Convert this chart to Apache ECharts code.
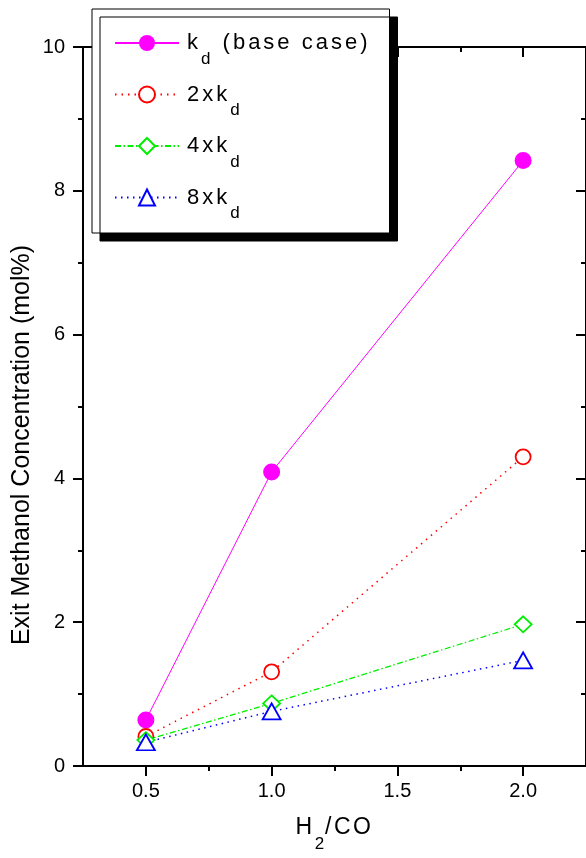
<!DOCTYPE html>
<html>
<head>
<meta charset="utf-8">
<script src="https://cdn.jsdelivr.net/npm/echarts@6/dist/echarts.min.js"></script>
<style>
  html, body { margin: 0; padding: 0; background: #fff; }
  #chart { width: 586px; height: 858px; }
</style>
</head>
<body>
<div id="chart"></div>
<script>
// ---- data ----
const xValues = [0.5, 1.0, 2.0];
const kdBase = [0.64, 4.09, 8.42];
const kd2x = [0.41, 1.31, 4.30];
const kd4x = [0.36, 0.87, 1.97];
const kd8x = [0.33, 0.76, 1.47];

const seriesNames = ['kd (base case)', '2xkd', '4xkd', '8xkd'];
const legendParts = [['k', 'd', ' (base case)'], ['2xk', 'd', ''], ['4xk', 'd', ''], ['8xk', 'd', '']];

const xMajorTicks = [0.5, 1.0, 1.5, 2.0];
const xMinorTicks = [0.75, 1.25, 1.75];
const yTickLabels = [0, 2, 4, 6, 8, 10];

const FONT = '"Liberation Sans", Arial, Helvetica, sans-serif';

function spaced(str, style) {
  return str.split('').map(c => '{' + style + '|' + c + '}').join('');
}
function legendText(name) {
  const i = seriesNames.indexOf(name);
  const p = legendParts[i];
  return spaced(p[0], 'm') + '{s|' + p[1] + '}' + spaced(p[2], 'm');
}
function pts(arr) { return xValues.map((x, i) => [x, arr[i]]); }

const chart = echarts.init(document.getElementById('chart'), null, { renderer: 'canvas' });

const axisLine = { show: true, lineStyle: { color: '#000', width: 2 } };

const option = {
  animation: false,
  backgroundColor: '#fff',
  grid: { left: 83, top: 47, right: -5, bottom: 92, containLabel: false },
  xAxis: [
    {
      type: 'value', min: 0.25, max: 2.25, position: 'bottom',
      axisLine: axisLine,
      axisTick: { show: true, inside: false, length: 10, customValues: xMajorTicks, lineStyle: { color: '#000', width: 2 } },
      axisLabel: { show: true, customValues: xMajorTicks, margin: 15, color: '#000', fontSize: 20, fontFamily: FONT,
        formatter: v => v.toFixed(1) },
      splitLine: { show: false },
      name: '{m|H}{s|2}{m|/}{m|C}{m|O}',
      nameLocation: 'middle',
      nameGap: 50,
      nameTextStyle: {
        fontFamily: FONT, fontSize: 23, color: '#000',
        rich: {
          m: { fontFamily: FONT, fontSize: 23, color: '#000', padding: [0, 2.5, 0, 0], verticalAlign: 'top' },
          s: { fontFamily: FONT, fontSize: 17, color: '#000', padding: [20, 1, 0, 0], verticalAlign: 'top' }
        }
      }
    },
    {
      type: 'value', min: 0.25, max: 2.25, position: 'bottom', gridIndex: 0,
      axisLine: { show: false },
      axisTick: { show: true, inside: false, length: 5, customValues: xMinorTicks, lineStyle: { color: '#000', width: 2 } },
      axisLabel: { show: false, customValues: xMinorTicks },
      splitLine: { show: false }
    },
    {
      type: 'value', min: 0.25, max: 2.25, position: 'top', gridIndex: 0,
      axisLine: axisLine,
      axisTick: { show: true, inside: true, length: 10, customValues: xMajorTicks, lineStyle: { color: '#000', width: 2 } },
      axisLabel: { show: false, customValues: xMajorTicks },
      splitLine: { show: false }
    },
    {
      type: 'value', min: 0.25, max: 2.25, position: 'top', gridIndex: 0,
      axisLine: { show: false },
      axisTick: { show: true, inside: true, length: 5, customValues: xMinorTicks, lineStyle: { color: '#000', width: 2 } },
      axisLabel: { show: false, customValues: xMinorTicks },
      splitLine: { show: false }
    }
  ],
  yAxis: [
    {
      type: 'value', min: 0, max: 10, interval: 2, position: 'left',
      axisLine: axisLine,
      axisTick: { show: true, inside: false, length: 10, lineStyle: { color: '#000', width: 2 } },
      minorTick: { show: true, splitNumber: 2, length: 5, lineStyle: { color: '#000', width: 2 } },
      axisLabel: { show: true, customValues: yTickLabels, margin: 18, color: '#000', fontSize: 20, fontFamily: FONT },
      splitLine: { show: false }
    },
    {
      type: 'value', min: 0, max: 10, interval: 2, position: 'right',
      axisLine: axisLine,
      axisTick: { show: true, inside: true, length: 10, lineStyle: { color: '#000', width: 2 } },
      minorTick: { show: true, splitNumber: 2, length: 5, lineStyle: { color: '#000', width: 2 } },
      axisLabel: { show: false },
      splitLine: { show: false }
    }
  ],
  legend: {
    show: true,
    orient: 'vertical',
    left: 92, top: 9,
    padding: [23, 22, 11, 22],
    itemWidth: 64, itemHeight: 20, itemGap: 16,
    backgroundColor: '#fff',
    borderColor: '#000', borderWidth: 1,
    shadowColor: '#000', shadowBlur: 0, shadowOffsetX: 8, shadowOffsetY: 8,
    selectedMode: false,
    data: seriesNames,
    formatter: legendText,
    textStyle: {
      fontFamily: FONT, fontSize: 22, color: '#000', padding: [0, 0, 0, 3],
      rich: {
        m: { fontFamily: FONT, fontSize: 22, color: '#000', padding: [0, 3, 0, 0], verticalAlign: 'middle' },
        s: { fontFamily: FONT, fontSize: 17, color: '#000', padding: [32, 3, 0, 0], verticalAlign: 'middle' }
      }
    }
  },
  graphic: [
    {
      type: 'text', x: 22, y: 445, rotation: Math.PI / 2,
      style: { text: 'Exit Methanol Concentration (mol%)', fontFamily: FONT, fontSize: 25, fill: '#000',
        align: 'center', verticalAlign: 'middle' }
    }
  ],
  series: [
    {
      name: seriesNames[0], type: 'line', data: pts(kdBase),
      symbol: 'circle', symbolSize: 17,
      lineStyle: { color: '#ff00ff', width: 1, type: 'solid' },
      itemStyle: { color: '#ff00ff', borderColor: '#ff00ff', borderWidth: 0 }
    },
    {
      name: seriesNames[1], type: 'line', data: pts(kd2x),
      symbol: 'circle', symbolSize: 15,
      lineStyle: { color: '#ff0000', width: 1.5, type: [1.5, 5] },
      itemStyle: { color: '#ffffff', borderColor: '#ff0000', borderWidth: 1.8 }
    },
    {
      name: seriesNames[2], type: 'line', data: pts(kd4x),
      symbol: 'diamond', symbolSize: [17, 16],
      lineStyle: { color: '#00ee00', width: 1.3, type: [6, 2.5, 1.5, 2.5] },
      itemStyle: { color: '#ffffff', borderColor: '#00ee00', borderWidth: 1.8 }
    },
    {
      name: seriesNames[3], type: 'line', data: pts(kd8x),
      symbol: 'triangle', symbolSize: [18, 16],
      lineStyle: { color: '#0000ff', width: 1.5, type: [1.5, 4.5] },
      itemStyle: { color: '#ffffff', borderColor: '#0000ff', borderWidth: 1.8 }
    }
  ]
};

chart.setOption(option);
</script>
</body>
</html>
